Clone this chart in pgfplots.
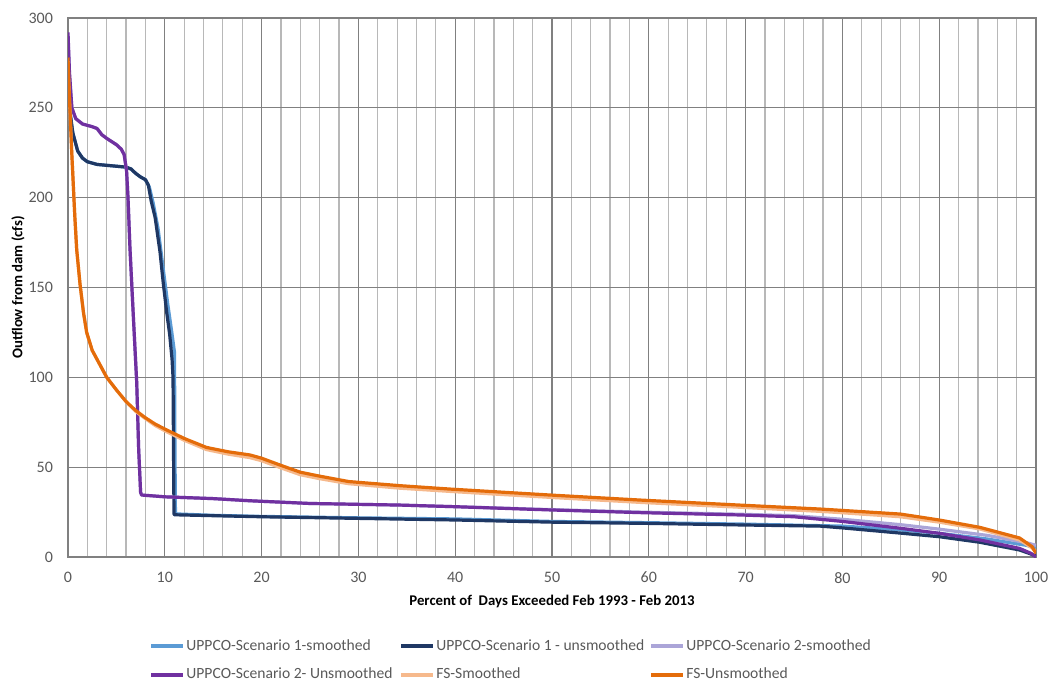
\documentclass[border=0pt]{standalone}
\usepackage{fontspec}
\setmainfont{Carlito}
\usepackage{pgfplots}
\pgfplotsset{compat=1.18}
\definecolor{sonesm}{HTML}{5B9BD5}
\definecolor{soneun}{HTML}{1F3864}
\definecolor{stwosm}{HTML}{ABA5D8}
\definecolor{stwoun}{HTML}{7030A0}
\definecolor{fssm}{HTML}{F6B98C}
\definecolor{fsun}{HTML}{E46C0A}
\definecolor{tickgray}{HTML}{595959}
\begin{document}
\begin{tikzpicture}
\useasboundingbox (-34pt,-67.5pt) rectangle (493pt,278.5pt);
\begin{axis}[
  scale only axis,
  width=484pt, height=269.5pt,
  xmin=0, xmax=100, ymin=0, ymax=300,
  xtick={0,10,...,100}, ytick={0,50,...,300},
  minor xtick={2,4,6,8,12,14,16,18,22,24,26,28,32,34,36,38,42,44,46,48,52,54,56,58,62,64,66,68,72,74,76,78,82,84,86,88,92,94,96,98},
  grid=both,
  major grid style={draw=black!50, line width=0.6pt},
  minor grid style={draw=black!28, line width=0.6pt},
  axis line style={draw=black!50, line width=0.6pt},
  major tick length=0pt, minor tick length=0pt,
  tick label style={font=\fontsize{8}{9}\selectfont, text=tickgray},
  /pgf/number format/assume math mode=true,
  yticklabel style={xshift=-4pt},
  xticklabel style={yshift=-4pt},
  xlabel={Percent of\ \ Days Exceeded Feb 1993 - Feb 2013},
  ylabel={Outflow from dam (cfs)},
  label style={font=\bfseries\fontsize{7.4}{9}\selectfont},
  xlabel style={at={(axis description cs:0.5,-0.0816)}, anchor=center},
  ylabel style={at={(axis description cs:-0.0517,0.5)}, anchor=center},
  legend columns=3,
  legend cell align=left,
  legend style={draw=none, fill=none, at={(axis description cs:0.0837,-0.15)}, anchor=north west,
    font=\fontsize{7.8}{9}\selectfont, text=tickgray, row sep=6.5pt, inner sep=0pt,
    nodes={inner sep=0.5pt}},
  legend image code/.code={\draw[#1, line width=2pt] (0pt,0pt) -- (16pt,0pt);},
  every axis plot/.append style={line width=1.6pt, line join=round},
]
\addplot[color=sonesm] coordinates {
(0,252) (0.2,247) (0.5,236) (1,226) (1.5,222) (2,220) (3,218.5) (4,218) (5,217.5) (6,217) (6.5,216) (7,213.5) (7.5,211.5) (8,210) (8.4,206) (8.8,197) (9.3,183) (9.8,162) (10.3,141) (10.7,126) (11,114) (11.05,60) (11.1,24) (15,23.2) (20,22.6) (30,21.8) (40,21.2) (50,19.8) (60,19.1) (70,18.3) (80,17.2) (85,15.5) (90,13.2) (95,10) (99,6.5) (100,5)
};
\addlegendentry{\makebox[106pt][l]{UPPCO-Scenario 1-smoothed}}
\addplot[color=soneun] coordinates {
(0,256) (0.2,248) (0.5,236) (1,226) (1.5,222) (2,220) (3,218.5) (4,218) (5,217.5) (6,217) (6.5,216) (7,213.5) (7.5,211.5) (8,210) (8.3,207) (8.6,198) (9,189) (9.5,170) (9.85,152) (10.2,136) (10.5,124) (10.75,110) (10.85,100) (10.9,60) (10.95,24) (11,23.5) (15,23) (20,22.4) (30,21.5) (40,20.6) (50,19.4) (60,18.7) (70,17.8) (77.7,17.2) (80,16.2) (86,13.3) (90,11.3) (94.2,8.2) (98.3,3.9) (99.3,2) (100,0.5)
};
\addlegendentry{\makebox[106pt][l]{UPPCO-Scenario 1 - unsmoothed}}
\addplot[color=stwosm] coordinates {
(0,290) (0.15,268) (0.4,250) (0.8,244) (1.5,241) (2.5,239.5) (3,238.5) (3.5,235) (4,233) (5,229.5) (5.5,227) (5.8,224) (6.05,215) (6.2,200) (6.4,172) (6.75,134) (7.1,97) (7.3,60) (7.5,36) (7.6,34.5) (10,33.5) (15,32.5) (18.8,31.3) (25,29.8) (34.3,28.9) (40,28) (49.8,26.4) (59.1,25) (69.4,23.8) (75,23) (80,21) (86,18) (90,15.5) (95,12) (99,8) (100,6.5)
};
\addlegendentry{UPPCO-Scenario 2-smoothed}
\addplot[color=stwoun] coordinates {
(0,292) (0.15,270) (0.4,250) (0.8,244) (1.5,241) (2.5,239.5) (3,238.5) (3.5,235) (4,233) (5,229.5) (5.5,227) (5.8,224) (6.05,215) (6.2,200) (6.4,172) (6.75,134) (7.1,97) (7.3,60) (7.5,36) (7.6,34.5) (10,33.5) (15,32.5) (18.8,31.3) (25,29.8) (34.3,28.9) (40,28) (49.8,26.2) (59.1,24.7) (69.4,23.4) (75,22.4) (80,19.8) (86,16) (90,13.2) (94.2,9.5) (98.3,4.8) (99.5,2) (100,0)
};
\addlegendentry{\makebox[106pt][l]{UPPCO-Scenario 2- Unsmoothed}}
\addplot[color=fssm] coordinates {
(0,276) (0.1,261) (0.38,226) (0.7,190) (0.9,171) (1.24,152) (1.6,136) (1.93,125) (2.5,115) (3.3,107) (4,100) (5,93) (6,86.5) (7,81) (8,77) (9,73.2) (10.2,69.7) (12,65) (14.3,59.8) (16.5,57.3) (18.8,55.3) (20,53.6) (22,49.6) (24,45.8) (26,43.6) (29,40.8) (34.3,38.3) (39.5,36.5) (49.8,33.2) (59.1,30.4) (69.4,27.7) (77.7,25.4) (79.8,24.7) (86,22.4) (90,19.4) (94.2,15.6) (98.3,9.5) (99.6,5) (100,3)
};
\addlegendentry{\makebox[106pt][l]{FS-Smoothed}}
\addplot[color=fsun] coordinates {
(0,278) (0.1,262) (0.38,226) (0.7,190) (0.9,171) (1.24,152) (1.6,136) (1.93,125) (2.5,115) (3.3,107) (4,100) (5,93) (6,86.5) (7,81.5) (8,77.5) (9,74) (10.2,70.7) (12,66) (14.3,61) (16.5,58.6) (18.8,56.8) (20,55) (22,51) (24,47.2) (26,45) (29,42) (34.3,39.7) (39.5,37.8) (49.8,34.5) (59.1,31.7) (69.4,28.9) (77.7,26.7) (79.8,26) (86,23.9) (90,20.6) (94.2,16.5) (98.3,10.6) (99.6,5.7) (100,2)
};
\addlegendentry{FS-Unsmoothed}
\end{axis}
\end{tikzpicture}
\end{document}
